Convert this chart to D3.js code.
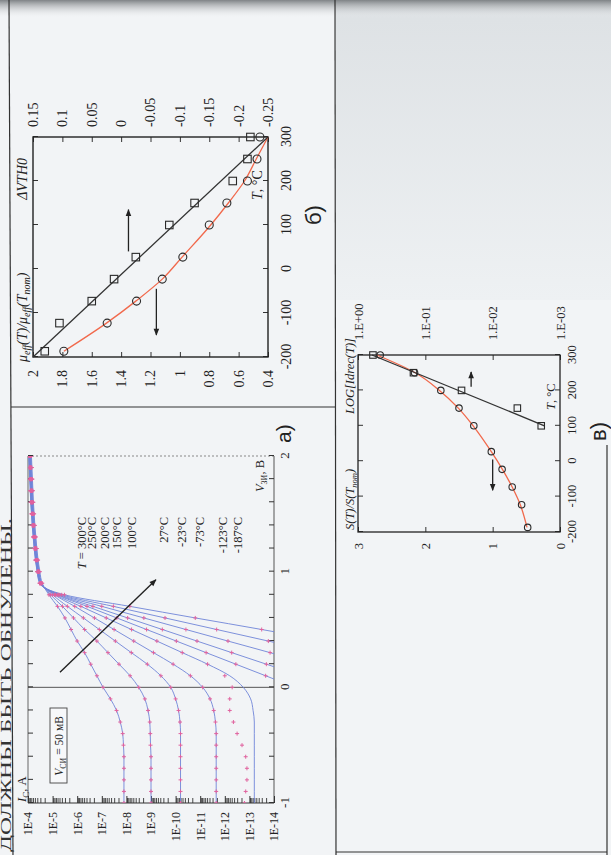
<!DOCTYPE html>
<html><head><meta charset="utf-8">
<script src="https://cdn.jsdelivr.net/npm/d3@7"></script>
<style>html,body{margin:0;padding:0;background:#f2f4f6}svg{display:block}</style>
</head><body>
<svg id="c" width="611" height="855"></svg>
<script>
// ---------------- DATA ----------------
// chart б)
const tempsB = [-187,-123,-73,-23,27,100,150,200,250,300];
const muRatio = [1.79,1.495,1.295,1.12,0.98,0.80,0.68,0.54,0.475,0.455];
const muFit = [1.79,1.50,1.30,1.12,0.985,0.79,0.67,0.56,0.48,0.40];
const dVth0 = [0.13,0.105,0.05,0.012,-0.025,-0.082,-0.125,-0.19,-0.215,-0.22];
const dVthFitT = [-200,300];
const dVthFit = [0.15,-0.25];
const muTicks = [0.4,0.6,0.8,1,1.2,1.4,1.6,1.8,2];
const muLabels = ['0.4','0.6','0.8','1','1.2','1.4','1.6','1.8','2'];
const dvTicks = [-0.25,-0.2,-0.15,-0.1,-0.05,0,0.05,0.1,0.15];
const dvLabels = ['-0.25','-0.2','-0.15','-0.1','-0.05','0','0.05','0.1','0.15'];
const tTicks = [-200,-100,0,100,200,300];
const tLabels = ['-200','-100','0','100','200','300'];

// chart а)  (log10 of drain current, A) vs gate voltage
const gateV = [-1.0,-0.9,-0.8,-0.7,-0.6,-0.5,-0.4,-0.3,-0.2,-0.1,0,0.1,0.2,0.3,0.4,0.5,0.6,0.7,0.8,0.9,1.0,1.1,1.2,1.3,1.4,1.5,1.6,1.7,1.8,1.9,2.0];
const tempLabels = ['300°C','250°C','200°C','150°C','100°C','27°C','-23°C','-73°C','-123°C','-187°C'];
const logIc300 = [-7.9,-7.9,-7.9,-7.9,-7.9,-7.88,-7.85,-7.75,-7.6,-7.35,-7.05,-6.8,-6.55,-6.3,-6.0,-5.75,-5.5,-5.2,-4.85,-4.58,-4.48,-4.41,-4.36,-4.32,-4.28,-4.25,-4.22,-4.2,-4.18,-4.16,-4.14];
const logIc250 = [-9.0,-9.0,-9.0,-9.0,-9.0,-8.98,-8.97,-8.95,-8.88,-8.75,-8.5,-8.15,-7.7,-7.25,-6.8,-6.3,-5.85,-5.4,-4.92,-4.56,-4.46,-4.39,-4.34,-4.3,-4.26,-4.23,-4.2,-4.18,-4.16,-4.14,-4.12];
const logIc200 = [-10.2,-10.2,-10.2,-10.2,-10.2,-10.2,-10.2,-10.18,-10.12,-10.0,-9.8,-9.4,-8.85,-8.2,-7.55,-6.9,-6.25,-5.6,-5.0,-4.54,-4.44,-4.37,-4.32,-4.28,-4.24,-4.21,-4.18,-4.16,-4.14,-4.12,-4.1];
const logIc150 = [-11.65,-11.65,-11.65,-11.65,-11.65,-11.65,-11.65,-11.62,-11.55,-11.4,-11.1,-10.6,-9.9,-9.1,-8.3,-7.5,-6.7,-5.9,-5.08,-4.53,-4.43,-4.36,-4.31,-4.27,-4.23,-4.2,-4.17,-4.15,-4.13,-4.11,-4.09];
const logIc100 = [-12.8,-12.85,-12.9,-12.9,-12.85,-12.7,-12.5,-12.35,-12.2,-12.2,-12.3,-12.0,-11.3,-10.27,-9.24,-8.21,-7.18,-6.15,-5.12,-4.52,-4.42,-4.35,-4.3,-4.26,-4.22,-4.19,-4.16,-4.14,-4.12,-4.1,-4.08];
const logIc100Model = [-13.2,-13.2,-13.2,-13.2,-13.2,-13.2,-13.2,-13.2,-13.15,-13.05,-12.75,-12.2,-11.3,-10.27,-9.24,-8.21,-7.18,-6.15,-5.12,-4.52,-4.42,-4.35,-4.3,-4.26,-4.22,-4.19,-4.16,-4.14,-4.12,-4.1,-4.08];
const logIc27 = [null,null,null,null,null,null,null,null,null,null,-14.87,-13.66,-12.45,-11.24,-10.03,-8.82,-7.61,-6.4,-5.19,-4.51,-4.41,-4.34,-4.29,-4.25,-4.21,-4.18,-4.15,-4.13,-4.11,-4.09,-4.07];
const logIcM23 = [null,null,null,null,null,null,null,null,null,null,null,-15.1,-13.69,-12.28,-10.87,-9.46,-8.05,-6.64,-5.23,-4.5,-4.4,-4.33,-4.28,-4.24,-4.2,-4.17,-4.14,-4.12,-4.1,-4.08,-4.06];
const logIcM73 = [null,null,null,null,null,null,null,null,null,null,null,null,-15.5,-13.84,-12.13,-10.42,-8.71,-7.0,-5.29,-4.49,-4.39,-4.32,-4.27,-4.23,-4.19,-4.16,-4.13,-4.11,-4.09,-4.07,-4.05];
const logIcM123 = [null,null,null,null,null,null,null,null,null,null,null,null,null,-15.9,-13.77,-11.67,-9.57,-7.47,-5.37,-4.48,-4.38,-4.31,-4.26,-4.22,-4.18,-4.15,-4.12,-4.1,-4.08,-4.06,-4.04];
const logIcM187 = [null,null,null,null,null,null,null,null,null,null,null,null,null,null,-16.1,-13.5,-10.8,-8.14,-5.48,-4.47,-4.37,-4.3,-4.25,-4.21,-4.17,-4.14,-4.11,-4.09,-4.07,-4.05,-4.03];
const measured = [logIc300,logIc250,logIc200,logIc150,logIc100,logIc27,logIcM23,logIcM73,logIcM123,logIcM187];
const model = [logIc300,logIc250,logIc200,logIc150,logIc100Model,logIc27,logIcM23,logIcM73,logIcM123,logIcM187];
const icExp = [-14,-13,-12,-11,-10,-9,-8,-7,-6,-5,-4];
const icLabels = ['1E-14','1E-13','1E-12','1E-11','1E-10','1E-9','1E-8','1E-7','1E-6','1E-5','1E-4'];
const vTicks = [-1,-0.8,-0.6,-0.4,-0.2,0,0.2,0.4,0.6,0.8,1,1.2,1.4,1.6,1.8,2];
const vLabelTicks = [-1,0,1,2];
const vLabels = ['-1','0','1','2'];

// chart в)
const tempsC = [-187,-123,-73,-23,27,100,150,200,250,300];
const sRatio = [0.48,0.57,0.71,0.86,1.02,1.28,1.5,1.77,2.16,2.67];
const sFit = [0.49,0.59,0.71,0.855,1.02,1.29,1.51,1.79,2.15,2.72];
const tempsIdrec = [100,150,200,250,300];
const idrec = [0.0019,0.0043,0.029,0.15,0.6];
const idrecFitT = [100,300];
const idrecFit = [0.0017,0.62];
const sTicks = [0,1,2,3];
const sLabels = ['0','1','2','3'];
const idTicks = [1e-3,1e-2,1e-1,1];
const idLabels = ['1.E-03','1.E-02','1.E-01','1.E+00'];

// ---------------- DRAW ----------------
const SERIF = "'Liberation Serif','Times New Roman',serif";
const SANS = "'Liberation Sans',Arial,sans-serif";
const INK = '#222';
const svg = d3.select('#c');
const defs = svg.append('defs');

const g1 = defs.append('linearGradient').attr('id','topband').attr('x1',0).attr('y1',0).attr('x2',0).attr('y2',1);
g1.append('stop').attr('offset','0').attr('stop-color','#7f8386');
g1.append('stop').attr('offset','1').attr('stop-color','#f2f4f6').attr('stop-opacity',0);
const g2 = defs.append('linearGradient').attr('id','rcol').attr('x1',0).attr('y1',0).attr('x2',0).attr('y2',1);
g2.append('stop').attr('offset','0').attr('stop-color','#dde1e4');
g2.append('stop').attr('offset','1').attr('stop-color','#eef1f3');

defs.append('marker').attr('id','ah').attr('viewBox','0 0 10 10').attr('refX',9).attr('refY',5)
  .attr('markerWidth',8).attr('markerHeight',7).attr('orient','auto').attr('markerUnits','userSpaceOnUse')
  .append('path').attr('d','M0,1L10,5L0,9Z').attr('fill',INK);
defs.append('clipPath').attr('id','clipA').append('rect').attr('x',52).attr('y',28).attr('width',347).attr('height',246);

// page background pieces
svg.append('rect').attr('x',0).attr('y',0).attr('width',611).attr('height',855).attr('fill','#f2f4f6');
svg.append('rect').attr('x',336).attr('y',0).attr('width',275).attr('height',300).attr('fill','url(#rcol)');
svg.append('rect').attr('x',0).attr('y',0).attr('width',611).attr('height',18).attr('fill','url(#topband)');

// frame lines of the scanned table
const page = svg.append('g').attr('stroke','#333').attr('stroke-width',1.2).attr('fill','none');
page.append('line').attr('x1',9).attr('y1',0).attr('x2',13).attr('y2',855);
page.append('line').attr('x1',11).attr('y1',407).attr('x2',336).attr('y2',407);
page.append('line').attr('x1',335).attr('y1',0).attr('x2',336).attr('y2',855);
page.append('line').attr('x1',607).attr('y1',445).attr('x2',607).attr('y2',855);
page.append('line').attr('x1',336).attr('y1',852).attr('x2',607).attr('y2',852);

// rotated drawing frame (text reads bottom-to-top)
const R = svg.append('g').attr('transform','translate(0,855) rotate(-90)');

R.append('text').attr('x',3).attr('y',10.5).attr('font-family',SERIF).attr('font-size',14).attr('fill','#333')
  .attr('textLength',334).attr('lengthAdjust','spacingAndGlyphs')
  .text('ДОЛЖНЫ БЫТЬ ОБНУЛЕНЫ.');

function axisStyle(sel, fs){
  sel.attr('font-family',SERIF).attr('font-size',fs);
  sel.select('.domain').remove();
  sel.selectAll('.tick text').attr('fill',INK);
  sel.selectAll('.tick line').attr('stroke','#333').attr('stroke-width',1);
}
function sym(g, type, x, y, s){
  if(type==='c') g.append('circle').attr('cx',x).attr('cy',y).attr('r',s/2);
  else g.append('rect').attr('x',x-s/2).attr('y',y-s/2).attr('width',s).attr('height',s);
}

// ======== chart б) ========
(function(){
  const g = R.append('g');
  const x = d3.scaleLinear([-200,300],[498,718]);
  const yL = d3.scaleLinear([0.4,2],[268,33]);
  const yR = d3.scaleLinear([-0.25,0.15],[268,33]);
  g.append('g').attr('transform','translate(498,0)')
    .call(d3.axisLeft(yL).tickValues(muTicks).tickFormat((d,i)=>muLabels[i]).tickSizeInner(-5).tickSizeOuter(0).tickPadding(13))
    .call(s=>axisStyle(s,14));
  g.append('g').attr('transform','translate(718,0)')
    .call(d3.axisRight(yR).tickValues(dvTicks).tickFormat((d,i)=>dvLabels[i]).tickSizeInner(-5).tickSizeOuter(0).tickPadding(10))
    .call(s=>axisStyle(s,14));
  g.append('g').attr('transform','translate(0,268)')
    .call(d3.axisBottom(x).tickValues(tTicks).tickFormat((d,i)=>tLabels[i]).tickSizeInner(-5).tickSizeOuter(0).tickPadding(13))
    .call(s=>axisStyle(s,14));
  g.append('g').attr('transform','translate(0,33)')
    .call(d3.axisTop(x).tickValues(tTicks).tickFormat('').tickSizeInner(-5).tickSizeOuter(0))
    .call(s=>axisStyle(s,14));
  g.append('rect').attr('x',498).attr('y',33).attr('width',220).attr('height',235)
    .attr('fill','none').attr('stroke','#222').attr('stroke-width',1.4);

  g.append('path').datum(tempsB.map((t,i)=>[t,muFit[i]]))
    .attr('d',d3.line().x(d=>x(d[0])).y(d=>yL(d[1])).curve(d3.curveMonotoneX))
    .attr('fill','none').attr('stroke','#f1694c').attr('stroke-width',1.3);
  g.append('path').datum(dVthFitT.map((t,i)=>[t,dVthFit[i]]))
    .attr('d',d3.line().x(d=>x(d[0])).y(d=>yR(d[1])))
    .attr('fill','none').attr('stroke','#333').attr('stroke-width',1.3);
  const m = g.append('g').attr('fill','none').attr('stroke','#2a2a2a').attr('stroke-width',1.1);
  tempsB.forEach((t,i)=>sym(m,'s',x(t),yR(dVth0[i]),7.5));
  tempsB.forEach((t,i)=>sym(m,'c',x(t),yL(muRatio[i]),8));

  g.append('line').attr('x1',x(40)).attr('x2',x(135)).attr('y1',yL(1.35)).attr('y2',yL(1.35))
    .attr('stroke',INK).attr('stroke-width',1.3).attr('marker-end','url(#ah)');
  g.append('line').attr('x1',x(-45)).attr('x2',x(-150)).attr('y1',yL(1.16)).attr('y2',yL(1.16))
    .attr('stroke',INK).attr('stroke-width',1.3).attr('marker-end','url(#ah)');

  const t1 = g.append('text').attr('x',493).attr('y',27).attr('font-family',SERIF).attr('font-size',14).attr('font-style','italic').attr('fill',INK);
  t1.append('tspan').text('μ');
  t1.append('tspan').attr('dy',3).attr('font-size',10).text('eff');
  t1.append('tspan').attr('dy',-3).text('(T)/');
  t1.append('tspan').text('μ');
  t1.append('tspan').attr('dy',3).attr('font-size',10).text('eff');
  t1.append('tspan').attr('dy',-3).text('(T');
  t1.append('tspan').attr('dy',3).attr('font-size',10).text('nom');
  t1.append('tspan').attr('dy',-3).text(')');
  g.append('text').attr('x',697).attr('y',27).attr('text-anchor','end').attr('font-family',SERIF).attr('font-size',14).attr('font-style','italic').attr('fill',INK).text('ΔVTH0');
  const t2 = g.append('text').attr('x',655).attr('y',262).attr('font-family',SERIF).attr('font-size',14).attr('fill',INK);
  t2.append('tspan').attr('font-style','italic').text('T');
  t2.append('tspan').text(', °C');
  g.append('text').attr('x',630).attr('y',321).attr('font-family',SANS).attr('font-size',22).attr('fill',INK).text('б)');
})();

// ======== chart а) ========
(function(){
  const g = R.append('g');
  const x = d3.scaleLinear([-1,2],[52,399]);
  const y = d3.scaleLinear([-14,-4],[274,28]);
  g.append('line').attr('x1',399).attr('x2',399).attr('y1',28).attr('y2',274).attr('stroke','#888').attr('stroke-width',1).attr('stroke-dasharray','2,2');
  g.append('line').attr('x1',52).attr('x2',399).attr('y1',28).attr('y2',28).attr('stroke','#666').attr('stroke-width',1);
  g.append('line').attr('x1',52).attr('x2',399).attr('y1',274).attr('y2',274).attr('stroke','#555').attr('stroke-width',1);
  g.append('line').attr('x1',52).attr('x2',52).attr('y1',28).attr('y2',274).attr('stroke','#333').attr('stroke-width',1.2);
  g.append('line').attr('x1',x(0)).attr('x2',x(0)).attr('y1',28).attr('y2',274).attr('stroke','#444').attr('stroke-width',0.9);

  g.append('g').attr('transform','translate(52,0)')
    .call(d3.axisLeft(y).tickValues(icExp).tickFormat((d,i)=>icLabels[i]).tickSizeInner(-7).tickSizeOuter(0).tickPadding(9))
    .call(s=>axisStyle(s,12));
  const minor = [];
  icExp.slice(0,-1).forEach(e=>{ for(let k=2;k<=9;k++) minor.push(e+Math.log10(k)); });
  g.append('g').selectAll('line').data(minor).join('line')
    .attr('x1',52).attr('x2',57).attr('y1',d=>y(d)).attr('y2',d=>y(d)).attr('stroke','#333').attr('stroke-width',0.9);
  g.append('g').attr('transform','translate(0,274)')
    .call(d3.axisBottom(x).tickValues(vTicks).tickFormat('').tickSizeInner(-5).tickSizeOuter(0))
    .call(s=>axisStyle(s,13));
  g.append('g').attr('transform','translate(0,274)')
    .call(d3.axisBottom(x).tickValues(vLabelTicks).tickFormat((d,i)=>vLabels[i]).tickSize(0).tickPadding(6))
    .call(s=>axisStyle(s,13));
  g.append('g').attr('transform','translate(0,28)')
    .call(d3.axisTop(x).tickValues(vTicks).tickFormat('').tickSizeInner(-5).tickSizeOuter(0))
    .call(s=>axisStyle(s,13));

  const plot = g.append('g').attr('clip-path','url(#clipA)');
  const line = d3.line().defined(d=>d[1]!==null).x(d=>x(d[0])).y(d=>y(d[1])).curve(d3.curveMonotoneX);
  model.forEach(arr=>{
    plot.append('path').datum(gateV.map((v,i)=>[v,arr[i]]))
      .attr('d',line).attr('fill','none').attr('stroke','#6f84d8').attr('stroke-width',0.9);
  });
  const mk = plot.append('g').attr('stroke','#e0629e').attr('stroke-width',1);
  measured.forEach(arr=>{
    gateV.forEach((v,i)=>{
      const val = arr[i];
      if(val===null || val < -14 || val > -4) return;
      const px = x(v), py = y(val);
      mk.append('path').attr('d',`M${px-2},${py}H${px+2}M${px},${py-2}V${py+2}`);
    });
  });

  g.append('rect').attr('x',72).attr('y',50).attr('width',75).attr('height',17).attr('fill','#f7f8fa').attr('stroke','#444').attr('stroke-width',0.9);
  const lt = g.append('text').attr('x',109).attr('y',63).attr('text-anchor','middle').attr('font-family',SERIF).attr('font-size',11.5).attr('fill',INK);
  lt.append('tspan').attr('font-style','italic').text('V');
  lt.append('tspan').attr('dy',2.5).attr('font-size',8).text('СИ');
  lt.append('tspan').attr('dy',-2.5).text(' = 50 мВ');

  const ly = [86,96,109,121,136,168,186,204,227,242];
  tempLabels.forEach((s,i)=>{
    const t = g.append('text').attr('x',338).attr('y',ly[i]).attr('text-anchor','end').attr('font-family',SERIF).attr('font-size',12.5).attr('fill',INK);
    if(i===0){ t.append('tspan').attr('font-style','italic').text('T'); t.append('tspan').text(' = '+s); }
    else t.text(s);
  });
  g.append('line').attr('x1',x(0.13)).attr('y1',y(-5.3)).attr('x2',x(0.93)).attr('y2',y(-9.2))
    .attr('stroke',INK).attr('stroke-width',1.4).attr('marker-end','url(#ah)');

  const ti = g.append('text').attr('x',53).attr('y',26).attr('font-family',SERIF).attr('font-size',12.5).attr('fill',INK);
  ti.append('tspan').attr('font-style','italic').text('I');
  ti.append('tspan').attr('dy',2.5).attr('font-size',9).text('С');
  ti.append('tspan').attr('dy',-2.5).text(', A');
  const tv = g.append('text').attr('x',395).attr('y',264).attr('text-anchor','end').attr('font-family',SERIF).attr('font-size',12.5).attr('fill',INK);
  tv.append('tspan').attr('font-style','italic').text('V');
  tv.append('tspan').attr('dy',2.5).attr('font-size',8).text('ЗИ');
  tv.append('tspan').attr('dy',-2.5).text(', В');
  g.append('text').attr('x',412).attr('y',291).attr('font-family',SANS).attr('font-size',21).attr('fill',INK).text('а)');
})();

// ======== chart в) ========
(function(){
  const g = R.append('g');
  const x = d3.scaleLinear([-200,300],[323,500]);
  const yL = d3.scaleLinear([0,3],[560,358]);
  const yR = d3.scaleLog([1e-3,1],[560,358]);
  g.append('g').attr('transform','translate(323,0)')
    .call(d3.axisLeft(yL).tickValues(sTicks).tickFormat((d,i)=>sLabels[i]).tickSizeInner(-5).tickSizeOuter(0).tickPadding(11))
    .call(s=>axisStyle(s,12.5));
  g.append('g').attr('transform','translate(500,0)')
    .call(d3.axisRight(yR).tickValues(idTicks).tickFormat((d,i)=>idLabels[i]).tickSizeInner(-5).tickSizeOuter(0).tickPadding(15))
    .call(s=>axisStyle(s,12.5));
  g.append('g').attr('transform','translate(0,560)')
    .call(d3.axisBottom(x).tickValues(tTicks).tickFormat((d,i)=>tLabels[i]).tickSizeInner(-5).tickSizeOuter(0).tickPadding(7))
    .call(s=>axisStyle(s,12.5));
  g.append('g').attr('transform','translate(0,358)')
    .call(d3.axisTop(x).tickValues(tTicks).tickFormat('').tickSizeInner(-5).tickSizeOuter(0))
    .call(s=>axisStyle(s,12.5));
  g.append('rect').attr('x',323).attr('y',358).attr('width',177).attr('height',202)
    .attr('fill','none').attr('stroke','#222').attr('stroke-width',1.3);

  g.append('path').datum(tempsC.map((t,i)=>[t,sFit[i]]))
    .attr('d',d3.line().x(d=>x(d[0])).y(d=>yL(d[1])).curve(d3.curveMonotoneX))
    .attr('fill','none').attr('stroke','#f1694c').attr('stroke-width',1.3);
  g.append('path').datum(idrecFitT.map((t,i)=>[t,idrecFit[i]]))
    .attr('d',d3.line().x(d=>x(d[0])).y(d=>yR(d[1])))
    .attr('fill','none').attr('stroke','#333').attr('stroke-width',1.3);
  const m = g.append('g').attr('fill','none').attr('stroke','#2a2a2a').attr('stroke-width',1.1);
  tempsIdrec.forEach((t,i)=>sym(m,'s',x(t),yR(idrec[i]),6.5));
  tempsC.forEach((t,i)=>sym(m,'c',x(t),yL(sRatio[i]),6.5));

  g.append('line').attr('x1',x(210)).attr('x2',x(252)).attr('y1',yL(1.32)).attr('y2',yL(1.32))
    .attr('stroke',INK).attr('stroke-width',1.3).attr('marker-end','url(#ah)');
  g.append('line').attr('x1',x(5)).attr('x2',x(-82)).attr('y1',yL(1.0)).attr('y2',yL(1.0))
    .attr('stroke',INK).attr('stroke-width',1.3).attr('marker-end','url(#ah)');

  const a = g.append('text').attr('x',325).attr('y',354).attr('font-family',SERIF).attr('font-size',12.5).attr('font-style','italic').attr('fill',INK);
  a.append('tspan').text('S(T)/S(T');
  a.append('tspan').attr('dy',2.5).attr('font-size',8.5).text('nom');
  a.append('tspan').attr('dy',-2.5).text(')');
  g.append('text').attr('x',441).attr('y',354).attr('font-family',SERIF).attr('font-size',12.5).attr('font-style','italic').attr('fill',INK).text('LOG[Idrec(T)]');
  const tt = g.append('text').attr('x',445).attr('y',555).attr('font-family',SERIF).attr('font-size',12.5).attr('fill',INK);
  tt.append('tspan').attr('font-style','italic').text('T');
  tt.append('tspan').text(', °C');
  g.append('text').attr('x',414).attr('y',606).attr('font-family',SANS).attr('font-size',22).attr('fill',INK).text('в)');
})();
</script>
</body></html>
